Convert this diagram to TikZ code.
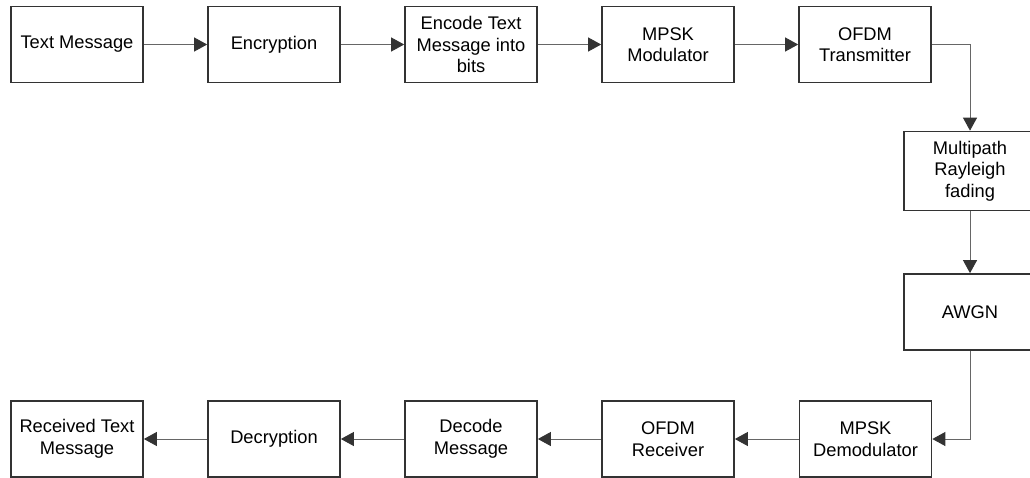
\documentclass[tikz,border=0pt]{standalone}
\usepackage{fontspec}
\setmainfont{Liberation Sans}
\usetikzlibrary{arrows.meta}
\definecolor{boxline}{HTML}{333333}
\definecolor{conline}{HTML}{666666}
\begin{document}
\begin{tikzpicture}[x=1pt,y=-1pt,
  blk/.style={draw=boxline,line width=1.7pt,minimum width=132pt,minimum height=76pt,
    align=center,inner sep=2pt,font=\fontsize{18.3}{21.5}\selectfont,text=black},
  conn/.style={draw=conline,line width=0.9pt,
    -{Triangle[length=13pt,width=14pt,color=boxline,fill=boxline]}}]
\useasboundingbox (0,0) rectangle (1030,477);
\node[blk] (tm)  at (77,44.5)  {Text Message};
\node[blk] (enc) at (274,44.5) {Encryption};
\node[blk] (ecd) at (471,44.5) {Encode Text\\Message into\\bits};
\node[blk] (mod) at (668,44.5) {MPSK\\Modulator};
\node[blk] (tx)  at (865,44.5) {OFDM\\Transmitter};
\node[blk,minimum height=79pt] (mp) at (970,171) {Multipath\\Rayleigh\\fading};
\node[blk] (awgn) at (970,312) {AWGN};
\node[blk] (dem) at (865.5,439) {MPSK\\Demodulator};
\node[blk] (rx)  at (668,439) {OFDM\\Receiver};
\node[blk] (dcd) at (471,439) {Decode\\Message};
\node[blk] (dec) at (274,439) {Decryption};
\node[blk] (rtm) at (77,439) {Received Text\\Message};
\draw[conn] (tm) -- (enc);
\draw[conn] (enc) -- (ecd);
\draw[conn] (ecd) -- (mod);
\draw[conn] (mod) -- (tx);
\draw[conn] (tx.east) -| (mp.north);
\draw[conn] (mp) -- (awgn);
\draw[conn] (awgn.south) |- (dem.east);
\draw[conn] (dem) -- (rx);
\draw[conn] (rx) -- (dcd);
\draw[conn] (dcd) -- (dec);
\draw[conn] (dec) -- (rtm);
\end{tikzpicture}
\end{document}
